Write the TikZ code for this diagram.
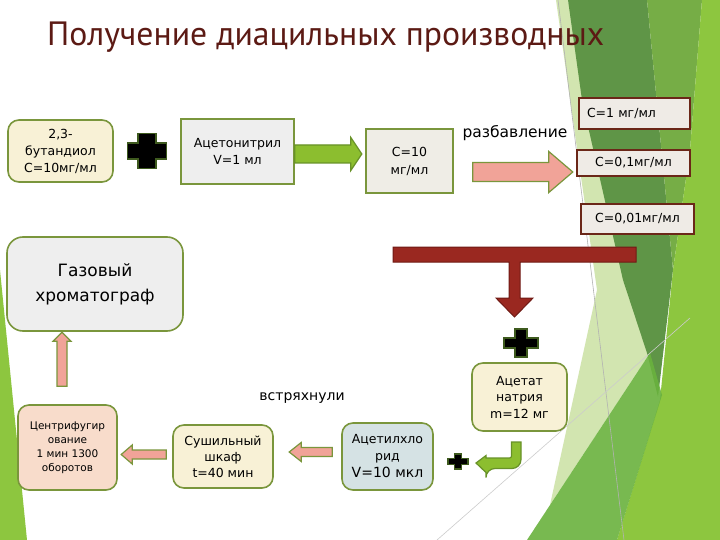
\documentclass[tikz,border=0pt]{standalone}
\usepackage{fontspec}
\setmainfont{DejaVu Sans}
\newfontfamily\titlefont{PT Sans}
\usetikzlibrary{calc}
\definecolor{olivebd}{RGB}{122,150,60}
\definecolor{creamf}{RGB}{248,241,214}
\definecolor{grayf}{RGB}{238,238,238}
\definecolor{warmf}{RGB}{239,237,230}
\definecolor{cfill}{RGB}{239,235,230}
\definecolor{cbrown}{RGB}{107,39,24}
\definecolor{peachf}{RGB}{248,220,203}
\definecolor{bluef}{RGB}{213,226,228}
\definecolor{pinkf}{RGB}{241,163,152}
\definecolor{greenf}{RGB}{140,190,47}
\definecolor{greenbd}{RGB}{104,146,40}
\definecolor{redf}{RGB}{154,40,32}
\definecolor{redbd}{RGB}{112,26,20}
\definecolor{titlecol}{RGB}{92,26,20}
\definecolor{plusbd}{RGB}{62,90,30}
\definecolor{bglime}{RGB}{141,198,63}
\definecolor{bgmid}{RGB}{118,173,70}
\definecolor{bgdark}{RGB}{95,149,71}
\definecolor{bgpale}{RGB}{210,229,176}
\definecolor{bgmed}{RGB}{106,178,62}
\newcommand\fsz[2]{\fontsize{#1}{#2}\selectfont}
\newcommand\plusmark[5]{%
  \filldraw[plusst, shift={#1}] (-#4,-#3) -- (#4,-#3) -- (#4,-#5) -- (#2,-#5) -- (#2,#5) -- (#4,#5) -- (#4,#3) -- (-#4,#3) -- (-#4,#5) -- (-#2,#5) -- (-#2,-#5) -- (-#4,-#5) -- cycle;}
\newcommand\blockarrow[7]{%
  \filldraw[#1, shift={#2}, rotate=#3] (0,-#5) -- ({#4-#7},-#5) -- ({#4-#7},-#6) -- (#4,0) -- ({#4-#7},#6) -- ({#4-#7},#5) -- (0,#5) -- cycle;}
\begin{document}
\begin{tikzpicture}[x=1pt,y=-1pt,
  box/.style={draw=olivebd, line width=1.6pt, align=center, inner sep=0pt, text=black},
  rbox/.style={box, rounded corners=11pt},
  cbox/.style={draw=cbrown, line width=2pt, fill=cfill, inner sep=0pt, text=black, font=\fsz{12.5}{15}},
  plusst/.style={fill=black, draw=plusbd, line width=1.6pt, line join=miter},
  garrow/.style={fill=greenf, draw=greenbd, line width=1.2pt, line join=miter},
  parrow/.style={fill=pinkf, draw=olivebd, line width=1.2pt, line join=miter},
  rarrow/.style={fill=redf, draw=redbd, line width=1pt, line join=miter}]
\useasboundingbox (0,0) rectangle (720,540);
\fill[white] (0,0) rectangle (720,540);
% background facets
\fill[bgpale] (556,0) -- (568,0) -- (623,270) -- (650,353) -- (550,505) -- (597,290) -- cycle;
\fill[bgdark] (568,0) -- (647,0) -- (673,270) -- (658,397) -- (647,353) -- (623,280) -- (582,100) -- cycle;
\fill[bgmid] (647,0) -- (702,0) -- (690,150) -- (673,270) -- cycle;
\fill[bglime] (702,0) -- (720,0) -- (720,540) -- (617,540) -- (660,400) -- (673,270) -- (690,150) -- cycle;
\fill[bgmed, opacity=0.9] (527,540) -- (650,353) -- (662,395) -- (617,540) -- cycle;
\fill[bglime] (0,270) -- (27,540) -- (0,540) -- cycle;
\draw[gray!60, line width=0.6pt] (558,0) -- (624,540);
\draw[gray!40, line width=0.6pt] (437,540) -- (690,318);
% title
\node[anchor=west, text=titlecol, font=\titlefont\fsz{33.7}{40}, inner sep=0pt] (title) at (47,37) {Получение диацильных производных};
% top row
\node[rbox, fill=creamf, minimum width=105pt, minimum height=62pt, font=\fsz{12.5}{17}] (b1) at (60.5,151) {2,3-\\бутандиол\\C=10мг/мл};
\plusmark{(147,151)}{19.5}{17.5}{9}{8}
\node[box, fill=grayf, minimum width=113pt, minimum height=65pt, font=\fsz{12.5}{16.5}] (b2) at (237.5,151.5) {Ацетонитрил\\V=1 мл};
\node[box, fill=warmf, minimum width=87pt, minimum height=64pt, font=\fsz{12.5}{18}] (b3) at (409.5,161) {C=10\\мг/мл};
\blockarrow{garrow}{($(b2.east)+(0,2.5)$)}{0}{67}{9}{16.5}{11}
\node[font=\fsz{15.5}{18}, inner sep=0pt] (razb) at (515,133) {разбавление};
\blockarrow{parrow}{($(b3.east)+(19,11)$)}{0}{100}{9.5}{20.5}{24}
\node[cbox, minimum height=31pt, text width=95pt, inner xsep=8pt, align=left] (c1) at (634.5,113.5) {C=1 мг/мл};
\node[cbox, minimum width=113pt, minimum height=26pt] (c2) at (633.5,163) {C=0,1мг/мл};
\node[cbox, minimum width=113pt, minimum height=30pt] (c3) at (637.5,219) {C=0,01мг/мл};
% red T arrow
\filldraw[rarrow] (393,247) -- (636,247) -- (636,262) -- (520,262) -- (520,298) -- (533,298) -- (514.5,317) -- (496,298) -- (509,298) -- (509,262) -- (393,262) -- cycle;
\plusmark{(521,343)}{17}{14}{6}{5}
% right column
\node[rbox, fill=creamf, minimum width=95pt, minimum height=68pt, font=\fsz{12.5}{16.5}] (acet) at (519.5,397) {Ацетат\\натрия\\m=12 мг};
\filldraw[garrow] (511.5,442) -- (521,442) {[rounded corners=9pt] -- (521,468.5) -- (486,468.5)} -- (486,472.5) -- (476,463) -- (486,455.5) -- (486,458) {[rounded corners=2pt] -- (511.5,458)} -- cycle;
\plusmark{(458,461.5)}{10}{7.5}{3.5}{3}
% bottom row
\node[rbox, fill=bluef, minimum width=91pt, minimum height=67pt, font=\fsz{12.5}{17}] (acl) at (387.5,456.5) {Ацетилхло\\рид\\{\fsz{14}{17}V=10 мкл}};
\node[font=\fsz{14}{17}, inner sep=0pt] (vstr) at (302,398) {встряхнули};
\blockarrow{parrow}{($(acl.west)+(-9,-4.5)$)}{180}{43}{4.5}{9.5}{12}
\node[rbox, fill=creamf, minimum width=100pt, minimum height=63pt, font=\fsz{12.5}{16}] (dry) at (223,456.5) {Сушильный\\шкаф\\t=40 мин};
\blockarrow{parrow}{($(dry.west)+(-6,-2)$)}{180}{45}{4.5}{9.5}{11}
\node[rbox, fill=peachf, minimum width=99pt, minimum height=85pt, font=\fsz{10.5}{14}] (cent) at (67.5,447.5) {Центрифугир\\ование\\1 мин 1300\\оборотов};
\blockarrow{parrow}{($(cent.north)+(-5.5,-18)$)}{90}{54}{5}{9}{9}
\node[rbox, rounded corners=16pt, fill=grayf, minimum width=176pt, minimum height=94pt, font=\fsz{17}{25}] (gas) at (95,284) {Газовый\\хроматограф};
\end{tikzpicture}
\end{document}
